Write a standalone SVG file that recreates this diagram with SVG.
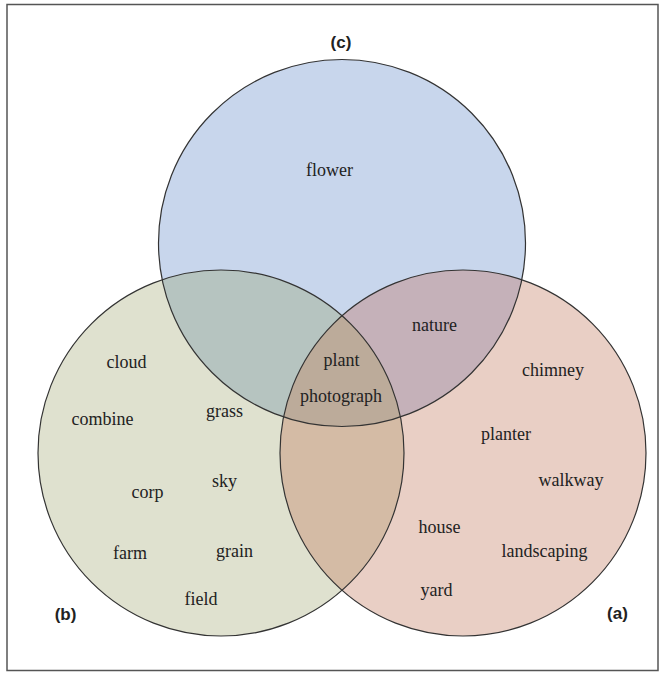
<svg xmlns="http://www.w3.org/2000/svg" width="666" height="673" viewBox="0 0 666 673">
<style>
.w{font-family:"Liberation Serif","Times New Roman",serif;font-size:18px;fill:#222;text-anchor:middle}
.l{font-family:"Liberation Sans",Arial,sans-serif;font-size:17px;font-weight:bold;fill:#222;text-anchor:middle}
.ring{fill:none;stroke:#333;stroke-width:1.2}
</style>
<defs>
<clipPath id="ca"><circle cx="463" cy="453" r="183"/></clipPath>
<clipPath id="cb"><circle cx="221" cy="453" r="183"/></clipPath>
<clipPath id="cc"><circle cx="342" cy="243" r="183.5"/></clipPath>
</defs>
<rect x="0" y="0" width="666" height="673" fill="#fff"/>
<rect x="7" y="4.5" width="651" height="666" fill="none" stroke="#555" stroke-width="1.5"/>
<g id="regions">
<circle cx="342" cy="243" r="183.5" fill="#c8d6ec"/>
<circle cx="221" cy="453" r="183" fill="#dfe1cf"/>
<circle cx="463" cy="453" r="183" fill="#e9cfc5"/>
<circle cx="342" cy="243" r="183.5" fill="#b6c4c0" clip-path="url(#cb)"/>
<circle cx="342" cy="243" r="183.5" fill="#c5b1b9" clip-path="url(#ca)"/>
<circle cx="221" cy="453" r="183" fill="#d4bba5" clip-path="url(#ca)"/>
<g clip-path="url(#ca)"><circle cx="342" cy="243" r="183.5" fill="#bcab9a" clip-path="url(#cb)"/></g>
</g>
<g id="node-c"><circle class="ring" cx="342" cy="243" r="183.5"/><text class="l" x="341" y="48">(c)</text></g>
<g id="node-b"><circle class="ring" cx="221" cy="453" r="183"/><text class="l" x="65.5" y="620">(b)</text></g>
<g id="node-a"><circle class="ring" cx="463" cy="453" r="183"/><text class="l" x="617.5" y="619">(a)</text></g>
<g id="connectors"></g>
<g id="words">
<text class="w" x="329.5" y="176">flower</text>
<text class="w" x="434.5" y="331">nature</text>
<text class="w" x="341.5" y="366">plant</text>
<text class="w" x="341" y="402">photograph</text>
<text class="w" x="126.5" y="368">cloud</text>
<text class="w" x="102.5" y="425">combine</text>
<text class="w" x="224.5" y="417">grass</text>
<text class="w" x="224.5" y="487">sky</text>
<text class="w" x="147.5" y="498">corp</text>
<text class="w" x="130" y="559">farm</text>
<text class="w" x="234.5" y="557">grain</text>
<text class="w" x="201" y="605">field</text>
<text class="w" x="553" y="376">chimney</text>
<text class="w" x="506" y="440">planter</text>
<text class="w" x="571" y="486">walkway</text>
<text class="w" x="439.5" y="533">house</text>
<text class="w" x="544.5" y="557">landscaping</text>
<text class="w" x="436.5" y="596">yard</text>
</g>
</svg>
